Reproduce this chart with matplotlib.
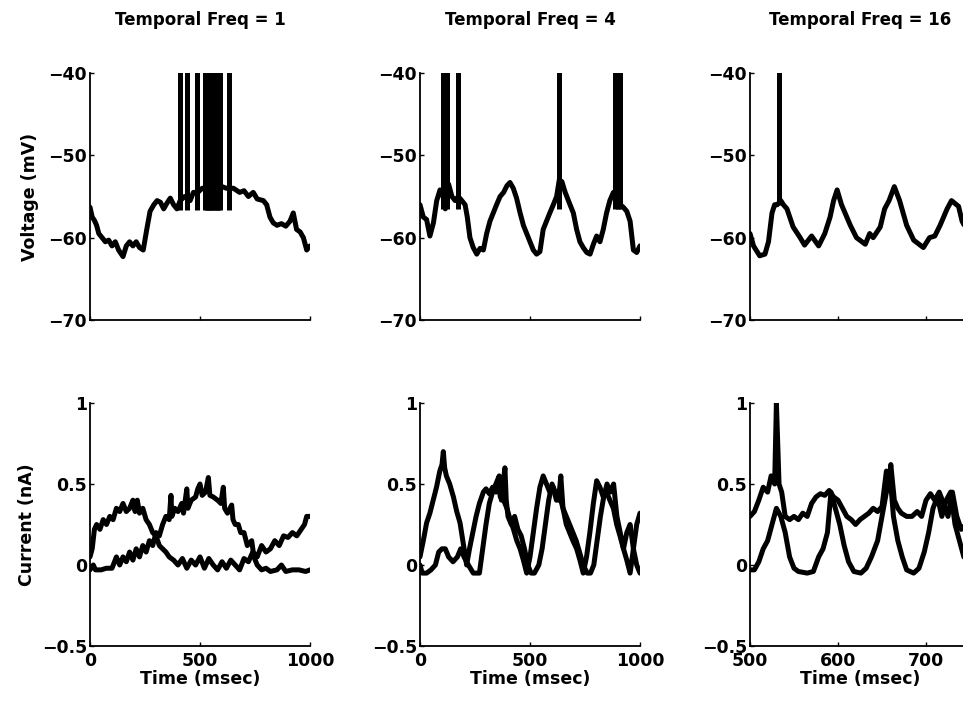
import matplotlib
matplotlib.use("Agg")
import matplotlib.pyplot as plt
import numpy as np

plt.rcParams['font.family'] = ['DejaVu Sans']
plt.rcParams['font.weight'] = 'bold'
plt.rcParams['font.size'] = 12.5

# ---- voltage, temporal freq 1 ----
v1_t = [0, 10, 20, 30, 40, 55, 70, 85, 100, 115, 130, 150, 165, 180, 195, 210, 225, 242,
        258, 273, 290, 305, 320, 335, 350, 365, 380, 395, 410, 430, 455, 470, 490, 510,
        540, 570, 600, 620, 652, 680, 700, 720, 742, 760, 788, 803, 818, 833, 850, 870,
        890, 909, 924, 939, 955, 970, 985, 1000]
v1_v = [-56.3, -57.5, -57.9, -58.5, -59.5, -60, -60.5, -60.3, -61, -60.5, -61.5, -62.3, -61,
        -60.5, -61, -60.5, -61.2, -61.5, -59, -56.8, -56, -55.5, -55.7, -56.5, -55.8, -55.2,
        -56, -56.5, -55.5, -55, -55.5, -54.5, -54.5, -54, -54, -54, -53.8, -54, -54, -54.5,
        -54.3, -55, -54.5, -55.3, -55.5, -56, -57.5, -58.2, -58.5, -58.3, -58.6, -58, -57,
        -59, -59.3, -60, -61.5, -61]
v1_spikes = [410, 441, 486, 522, 530, 537, 545, 552, 560, 567, 575, 582, 590, 632]
v1_trough = -56.6

# ---- voltage, temporal freq 4 ----
v2_t = [0, 15, 30, 45, 61, 76, 91, 105, 115, 130, 145, 160, 174, 190, 205, 215, 227, 242,
        258, 273, 288, 303, 318, 333, 348, 364, 380, 395, 409, 424, 439, 455, 470, 485,
        500, 515, 530, 545, 560, 575, 590, 606, 621, 633, 645, 660, 682, 697, 712, 727,
        742, 758, 773, 788, 803, 818, 833, 848, 863, 879, 895, 910, 924, 940, 955, 970,
        985, 1000]
v2_v = [-56, -57.5, -57.8, -59.8, -58.2, -55.5, -54.2, -55, -56.5, -53.5, -55, -55.5, -55,
        -55.5, -56, -57.5, -60, -61.2, -62, -61.3, -61.5, -59.5, -58, -57, -56, -55, -54.5,
        -53.7, -53.3, -54, -55.2, -57, -58.5, -59.5, -60.5, -61.5, -62, -61.7, -59, -58,
        -57, -56, -55, -53, -53.2, -54.5, -56, -57, -59, -60.5, -61.2, -61.8, -62, -60.8,
        -59.8, -60.5, -59, -57, -55.5, -54.5, -55.5, -56, -56.3, -56.8, -58, -61.5, -61.8, -61]
v2_spikes = [106, 121, 174, 633, 888, 900, 911]
v2_trough = -56.5

# ---- voltage, temporal freq 16 ----
v3_t = [500, 504, 511, 517, 521, 525, 528, 531, 535, 538, 542, 549, 557, 562, 570, 578,
        585, 591, 595, 599, 604, 614, 621, 631, 636, 640, 648, 653, 658, 664, 670, 678,
        686, 697, 704, 710, 716, 724, 729, 737, 741, 746, 750]
v3_v = [-59.5, -61, -62.2, -62, -60.5, -57, -56, -56, -55.5, -56, -56.5, -58.7, -60, -60.9,
        -59.8, -61, -59.5, -57.5, -55.5, -54.2, -56, -58.5, -60, -60.8, -59.5, -60, -58.7,
        -56.5, -55.5, -53.8, -55.5, -58.5, -60.3, -61.2, -60, -59.8, -58.5, -56.5, -55.5,
        -56.2, -58, -59, -60]
v3_spikes = [533]
v3_trough = -56.0

# ---- currents, temporal freq 1 ----
i1a_t = [0, 10, 20, 30, 45, 60, 75, 90, 105, 120, 135, 150, 165, 180, 195, 205, 215, 225,
         240, 255, 270, 285, 300, 315, 330, 345, 360, 380, 400, 420, 440, 460, 480, 500,
         520, 540, 560, 580, 600, 620, 640, 660, 680, 700, 720, 740, 760, 780, 800, 820,
         840, 860, 880, 900, 920, 940, 960, 975, 985, 1000]
i1a = [0.05, 0.1, 0.22, 0.25, 0.22, 0.28, 0.25, 0.3, 0.28, 0.35, 0.33, 0.38, 0.33, 0.35,
       0.4, 0.33, 0.4, 0.32, 0.35, 0.28, 0.25, 0.2, 0.18, 0.12, 0.1, 0.08, 0.05, 0.03, 0.0,
       0.04, -0.02, 0.03, 0.0, 0.05, -0.02, 0.04, 0.0, -0.03, 0.02, -0.02, 0.03, 0.0, -0.03,
       0.04, 0.02, 0.08, 0.05, 0.12, 0.08, 0.1, 0.15, 0.12, 0.18, 0.17, 0.2, 0.18, 0.22,
       0.25, 0.3, 0.3]
i1b_t = [0, 15, 25, 50, 75, 100, 120, 135, 150, 165, 180, 195, 210, 225, 240, 255, 270,
         285, 300, 315, 330, 345, 360, 368, 372, 385, 400, 417, 425, 440, 445, 460, 480,
         490, 500, 510, 525, 538, 545, 560, 580, 595, 606, 612, 625, 644, 650, 660, 674,
         685, 700, 715, 735, 745, 760, 780, 800, 820, 850, 870, 890, 920, 950, 980, 1000]
i1b = [-0.03, 0.0, -0.03, -0.03, -0.02, -0.02, 0.05, 0.0, 0.05, 0.02, 0.08, 0.03, 0.1,
       0.05, 0.12, 0.08, 0.15, 0.12, 0.2, 0.18, 0.25, 0.3, 0.28, 0.43, 0.3, 0.35, 0.33,
       0.38, 0.32, 0.47, 0.35, 0.4, 0.42, 0.47, 0.5, 0.43, 0.45, 0.54, 0.43, 0.42, 0.4,
       0.38, 0.48, 0.35, 0.32, 0.37, 0.28, 0.25, 0.25, 0.2, 0.2, 0.12, 0.15, 0.05, 0.0,
       -0.03, -0.02, -0.04, -0.03, 0.0, -0.04, -0.03, -0.03, -0.04, -0.03]

# ---- currents, temporal freq 4 ----
i2a_t = [0, 15, 30, 45, 60, 75, 90, 100, 106, 112, 120, 135, 152, 167, 182, 197, 212, 225,
         240, 255, 270, 288, 300, 315, 330, 345, 355, 365, 380, 395, 410, 425, 440, 455,
         470, 485, 500, 515, 530, 545, 560, 575, 590, 605, 620, 636, 650, 665, 680, 695,
         712, 727, 742, 757, 772, 788, 803, 818, 833, 848, 863, 879, 894, 909, 925, 940,
         955, 970, 985, 1000]
i2a = [0.05, 0.15, 0.26, 0.32, 0.4, 0.48, 0.58, 0.62, 0.7, 0.6, 0.55, 0.5, 0.42, 0.33,
       0.26, 0.13, 0.0, 0.1, 0.2, 0.3, 0.38, 0.45, 0.47, 0.44, 0.48, 0.45, 0.52, 0.42, 0.4,
       0.35, 0.28, 0.22, 0.15, 0.1, 0.03, -0.05, 0.05, 0.2, 0.35, 0.48, 0.55, 0.5, 0.45,
       0.48, 0.4, 0.42, 0.35, 0.25, 0.2, 0.15, 0.1, 0.03, -0.05, 0.05, 0.2, 0.38, 0.52,
       0.48, 0.42, 0.45, 0.4, 0.35, 0.25, 0.18, 0.1, 0.03, -0.05, 0.1, 0.25, 0.32]
i2b_t = [0, 10, 30, 50, 70, 85, 100, 115, 130, 150, 170, 185, 200, 220, 242, 270, 285,
         300, 315, 330, 345, 360, 370, 386, 392, 400, 415, 430, 445, 460, 475, 490, 505,
         520, 540, 555, 570, 585, 600, 615, 630, 640, 650, 665, 680, 695, 710, 725, 742,
         760, 775, 790, 805, 820, 835, 850, 865, 880, 895, 910, 925, 940, 955, 970, 985, 1000]
i2b = [0.0, -0.05, -0.05, -0.03, 0.0, 0.08, 0.1, 0.1, 0.05, 0.02, 0.05, 0.1, 0.05, 0.0,
       -0.05, -0.05, 0.1, 0.25, 0.38, 0.45, 0.5, 0.55, 0.4, 0.6, 0.4, 0.3, 0.25, 0.3, 0.22,
       0.18, 0.1, 0.0, -0.05, -0.05, 0.0, 0.1, 0.25, 0.4, 0.5, 0.45, 0.4, 0.55, 0.35, 0.3,
       0.25, 0.2, 0.15, 0.08, 0.0, -0.05, -0.05, 0.0, 0.15, 0.3, 0.42, 0.5, 0.45, 0.5, 0.3,
       0.2, 0.1, 0.2, 0.25, 0.1, 0.0, -0.05]

# ---- currents, temporal freq 16 ----
i3a_t = [500, 505, 510, 515, 520, 524, 528, 530, 533, 536, 540, 545, 550, 555, 560, 565,
         570, 575, 580, 585, 590, 595, 600, 605, 610, 615, 620, 625, 630, 635, 640, 645,
         650, 655, 658, 660, 664, 668, 672, 678, 684, 690, 695, 700, 705, 710, 715, 720,
         725, 730, 735, 740, 745, 750]
i3a = [0.3, 0.33, 0.4, 0.48, 0.45, 0.55, 0.5, 1.0, 0.5, 0.45, 0.3, 0.28, 0.3, 0.28, 0.32,
       0.3, 0.38, 0.42, 0.44, 0.43, 0.46, 0.42, 0.4, 0.35, 0.3, 0.28, 0.25, 0.28, 0.3, 0.32,
       0.35, 0.33, 0.36, 0.58, 0.5, 0.62, 0.4, 0.35, 0.32, 0.3, 0.3, 0.33, 0.3, 0.4, 0.44,
       0.4, 0.45, 0.38, 0.3, 0.45, 0.3, 0.22, 0.25, 0.22]
i3b_t = [500, 505, 510, 515, 520, 525, 530, 535, 540, 545, 550, 555, 565, 572, 578, 583,
         588, 592, 597, 602, 607, 612, 618, 626, 632, 638, 645, 650, 655, 660, 663, 668,
         673, 678, 686, 692, 698, 703, 708, 713, 718, 723, 728, 733, 738, 743, 750]
i3b = [-0.03, -0.03, 0.02, 0.1, 0.15, 0.25, 0.35, 0.3, 0.2, 0.05, -0.02, -0.04, -0.05,
       -0.04, 0.05, 0.1, 0.2, 0.45, 0.35, 0.25, 0.12, 0.02, -0.04, -0.05, -0.02, 0.05, 0.15,
       0.3, 0.45, 0.5, 0.3, 0.15, 0.05, -0.03, -0.05, -0.02, 0.08, 0.2, 0.35, 0.42, 0.3,
       0.4, 0.45, 0.25, 0.15, 0.05, 0.0]

titles = ['Temporal Freq = 1', 'Temporal Freq = 4', 'Temporal Freq = 16']
xlims = [(0, 1000), (0, 1000), (500, 750)]
xticks = [[0, 500, 1000], [0, 500, 1000], [500, 600, 700]]
v_ticks = [-70, -60, -50, -40]
i_ticks = [-0.5, 0, 0.5, 1]

volt = [(v1_t, v1_v, v1_spikes, v1_trough),
        (v2_t, v2_v, v2_spikes, v2_trough),
        (v3_t, v3_v, v3_spikes, v3_trough)]
curr = [((i1a_t, i1a), (i1b_t, i1b)),
        ((i2a_t, i2a), (i2b_t, i2b)),
        ((i3a_t, i3a), (i3b_t, i3b))]

W, H = 963, 705
fig = plt.figure(figsize=(W / 100, H / 100), dpi=100)
lefts = [90, 420, 750]
aw = 220
lw = 3.6


def style(ax):
    for s in ['top', 'right']:
        ax.spines[s].set_visible(False)
    for s in ['left', 'bottom']:
        ax.spines[s].set_linewidth(1.3)
    ax.tick_params(direction='in', length=3, width=1, pad=2)


for k in range(3):
    # voltage row
    ax = fig.add_axes([lefts[k] / W, (H - 320) / H, aw / W, 247 / H])
    t, v, spk, tr = volt[k]
    ax.plot(t, v, color='black', lw=lw, solid_joinstyle='round', solid_capstyle='round')
    ax.vlines(spk, tr, -38, color='black', lw=lw)
    ax.set_yticks(v_ticks)
    ax.set_xticks(xticks[k])
    ax.set_xticklabels([])
    ax.set_xlim(*xlims[k])
    ax.set_ylim(-70, -40)
    style(ax)
    fig.text((lefts[k] + aw / 2) / W, 1 - 20 / H, titles[k], ha='center', va='center',
             fontsize=12, fontweight='bold')

    # current row
    ax = fig.add_axes([lefts[k] / W, (H - 646) / H, aw / W, 243 / H])
    for tt, ii in curr[k]:
        ax.plot(tt, ii, color='black', lw=lw, solid_joinstyle='round',
                solid_capstyle='round')
    ax.set_yticks(i_ticks)
    ax.set_yticklabels(['\u22120.5', '0', '0.5', '1'])
    ax.set_xticks(xticks[k])
    ax.set_xlim(*xlims[k])
    ax.set_ylim(-0.5, 1)
    style(ax)
    ax.tick_params(axis='x', pad=4)
    ax.set_xlabel('Time (msec)', fontsize=12.5, fontweight='bold', labelpad=0)

fig.text(30 / W, 1 - 197 / H, 'Voltage (mV)', rotation=90, ha='center', va='center',
         fontsize=12.5, fontweight='bold')
fig.text(27 / W, 1 - 525 / H, 'Current (nA)', rotation=90, ha='center', va='center',
         fontsize=12.5, fontweight='bold')

fig.savefig('out.png', dpi=100)
